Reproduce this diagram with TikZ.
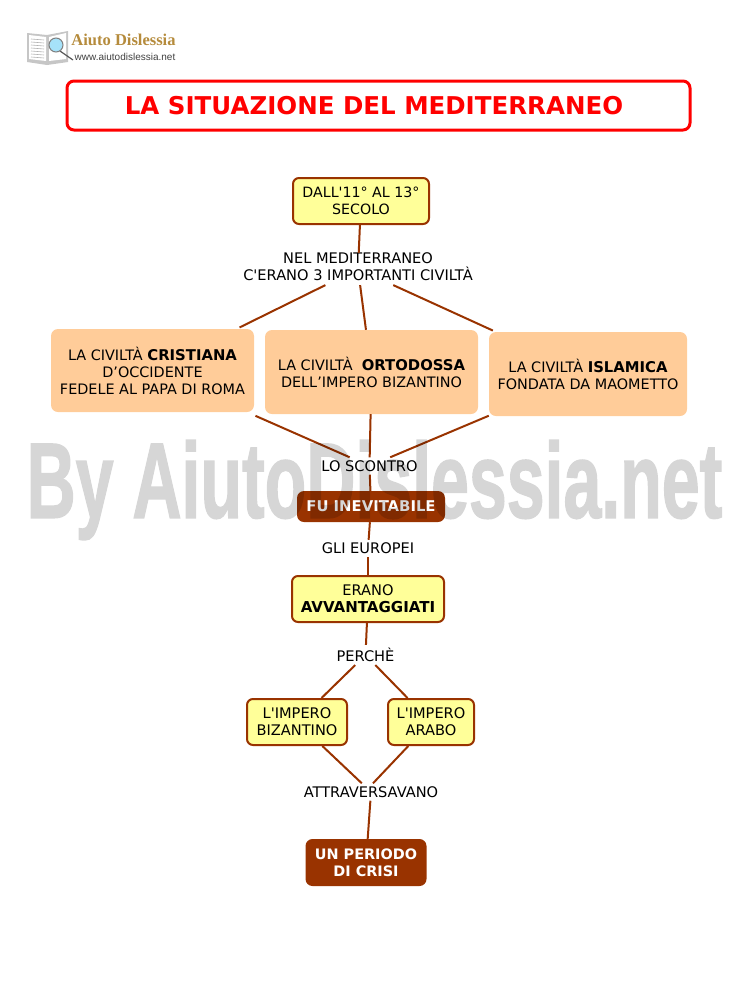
\documentclass[tikz,border=0pt]{standalone}
\usepackage{fontspec}
\setmainfont[Ligatures=TeXOff, BoldFeatures={Scale=1.03}]{DejaVu Sans}
\newfontfamily\logofont{Liberation Serif}
\newfontfamily\urlfont{Liberation Sans}
\newfontfamily\markfont[FakeBold=1.6]{Liberation Sans Bold}
\definecolor{mapbrown}{HTML}{993300}
\definecolor{mapyellow}{HTML}{FFFF99}
\definecolor{mappeach}{HTML}{FFCC99}
\definecolor{logogold}{HTML}{B58B3C}
\begin{document}
\begin{tikzpicture}[
        x=1pt, y=-1pt,
        every node/.style={align=center, inner sep=1pt, font=\fontsize{14.6}{17}\selectfont},
        titlebox/.style={draw=red, line width=3pt, rounded corners=7pt},
        yellowbox/.style={draw=mapbrown, line width=2pt, fill=mapyellow, rounded corners=6pt},
        peachbox/.style={fill=mappeach, rounded corners=7pt, font=\fontsize{14.4}{17}\selectfont},
        darkbox/.style={fill=mapbrown, rounded corners=7pt, text=white, font=\fontsize{14.4}{17}\selectfont\bfseries},
        linklabel/.style={inner ysep=3pt},
        link/.style={draw=mapbrown, line width=2pt}
    ]
        \useasboundingbox (0,0) rectangle (746,986);

        % Logo
        \fill[gray!45] (27,33) -- (47,35) -- (68,31) -- (68,62) -- (47,65) -- (27,62) -- cycle;
        \fill[white] (29,35) -- (46,37) -- (46,61) -- (29,59) -- cycle;
        \fill[white] (49,37) -- (66,33) -- (66,59) -- (49,61) -- cycle;
        \foreach \y in {39,42,...,57} {
            \draw[gray!60, line width=0.6pt] (31,\y) -- (44,\y+1);
        }
        \draw[gray!70!black, line width=1.2pt] (60,51) -- (73,60);
        \draw[gray, fill=cyan!35, line width=1pt] (56,45) circle (7);
        \node[text=logogold, font=\fontsize{16.5}{17}\selectfont\logofont\bfseries] (logo_name) at (123.5,40) {Aiuto Dislessia};
        \node[text=black!75, font=\fontsize{10}{12}\selectfont\urlfont] (logo_url) at (125,57) {www.aiutodislessia.net};

        % Title
        \node[titlebox, minimum width=623pt, minimum height=49pt] (title) at (378.5,105.5) {};
        \node[text=red, font=\fontsize{23.8}{28}\selectfont\bfseries] (title_text) at (374,105.5) {LA SITUAZIONE DEL MEDITERRANEO};

        % Top of the map
        \node[yellowbox, minimum width=136pt, minimum height=46pt, font=\fontsize{14.2}{17}\selectfont] (century) at (361,201) {DALL'11° AL 13°\\SECOLO};
        \node[inner ysep=0pt] (sea_label) at (358,269) {NEL MEDITERRANEO\\C'ERANO 3 IMPORTANTI CIVILTÀ\rule[-4pt]{0pt}{0pt}};

        % The three civilisations
        \node[peachbox, minimum width=203pt, minimum height=83pt] (christian) at (152.5,370.5) {LA CIVILTÀ \textbf{CRISTIANA}\\D’OCCIDENTE\\FEDELE AL PAPA DI ROMA};
        \node[peachbox, minimum width=213pt, minimum height=84pt] (orthodox) at (371.5,372) {LA CIVILTÀ~ \textbf{ORTODOSSA}\\DELL’IMPERO BIZANTINO};
        \node[peachbox, minimum width=198pt, minimum height=84pt] (islamic) at (588,374) {LA CIVILTÀ \textbf{ISLAMICA}\\FONDATA DA MAOMETTO};

        % Middle
        \node[linklabel] (clash_label) at (369.5,466) {LO SCONTRO};
        \node[darkbox, minimum width=148pt, minimum height=31pt] (inevitable) at (371,506.5) {FU INEVITABILE};
        \node[linklabel] (europe_label) at (368,548.5) {GLI EUROPEI};
        \node[yellowbox, minimum width=152pt, minimum height=46pt] (advantage) at (368,599) {ERANO\\\textbf{AVVANTAGGIATI}};
        \node[linklabel] (because_label) at (365.5,655) {PERCHÈ};

        % Bottom
        \node[yellowbox, minimum width=100pt, minimum height=46pt] (byzantine) at (297,722) {L'IMPERO\\BIZANTINO};
        \node[yellowbox, minimum width=86pt, minimum height=46pt] (arab) at (431,722) {L'IMPERO\\ARABO};
        \node[linklabel] (cross_label) at (371,792) {ATTRAVERSAVANO};
        \node[darkbox, minimum width=121pt, minimum height=47pt, font=\fontsize{14}{17}\selectfont\bfseries] (crisis) at (366,862.5) {UN PERIODO\\DI CRISI};

        % Connectors
        \draw[link] (century) -- (sea_label);
        \draw[link, shorten >=3pt] (sea_label) -- (christian);
        \draw[link] (sea_label) -- (orthodox);
        \draw[link, shorten >=3pt] (sea_label) -- (islamic);
        \draw[link, shorten <=9pt] (christian) -- (clash_label);
        \draw[link] (orthodox) -- (clash_label);
        \draw[link] (islamic) -- (clash_label);
        \draw[link] (clash_label) -- (inevitable);
        \draw[link] (inevitable) -- (europe_label);
        \draw[link] (europe_label) -- (advantage);
        \draw[link] (advantage) -- (because_label);
        \draw[link] (because_label) -- (byzantine);
        \draw[link] (because_label) -- (arab);
        \draw[link] (byzantine) -- (cross_label);
        \draw[link] (arab) -- ([xshift=2pt]cross_label.north);
        \draw[link] (cross_label) -- (crisis);

        % Watermark
        \begin{scope}[transparency group, opacity=0.16]
            \node[transform shape, xscale=0.636, text=black, font=\fontsize{107}{107}\selectfont\markfont] (watermark) at (374.5,490) {By AiutoDislessia.net};
        \end{scope}
\end{tikzpicture}
\end{document}
